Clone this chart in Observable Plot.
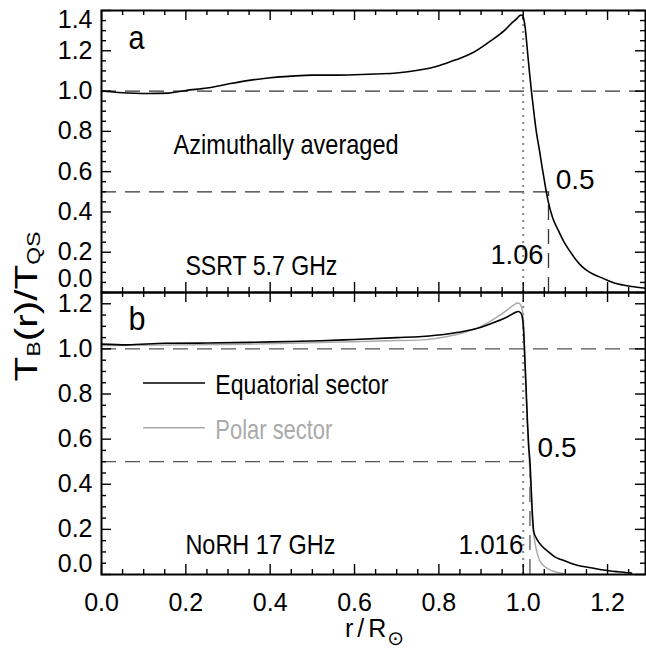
<!DOCTYPE html>
<html>
<head>
<meta charset="utf-8">
<script src="https://cdn.jsdelivr.net/npm/d3@7"></script>
<script src="https://cdn.jsdelivr.net/npm/@observablehq/plot@0.6"></script>
<style>
  body { margin: 0; background: #fff; }
  #wrap { position: relative; width: 646px; height: 649px; background: #fff; }
  #wrap > svg { display: block; overflow: visible; }
  #overlay { position: absolute; left: 0; top: 0; pointer-events: none; }
</style>
</head>
<body>
<div id="wrap"></div>
<script>
// ---------- data ----------
// Panel a: SSRT 5.7 GHz, azimuthally averaged
const rA = [0, 0.04, 0.08, 0.11, 0.16, 0.2, 0.25, 0.3, 0.35, 0.4, 0.45, 0.5, 0.55, 0.6, 0.65, 0.7, 0.75, 0.8, 0.84, 0.88, 0.92, 0.955, 0.975, 0.985, 0.992, 0.997, 1.001, 1.005, 1.01, 1.015, 1.02, 1.025, 1.031, 1.039, 1.045, 1.051, 1.059, 1.07, 1.083, 1.097, 1.111, 1.125, 1.139, 1.158, 1.178, 1.198, 1.218, 1.237, 1.257, 1.275, 1.29];
const tA = [1.0, 0.993, 0.989, 0.988, 0.99, 1.003, 1.015, 1.035, 1.053, 1.066, 1.074, 1.079, 1.079, 1.081, 1.085, 1.09, 1.103, 1.126, 1.155, 1.19, 1.245, 1.30, 1.342, 1.36, 1.375, 1.378, 1.36, 1.31, 1.2, 1.09, 0.99, 0.9, 0.8, 0.70, 0.62, 0.545, 0.455, 0.37, 0.31, 0.25, 0.204, 0.163, 0.13, 0.1, 0.08, 0.062, 0.046, 0.037, 0.03, 0.025, 0.021];

// Panel b: NoRH 17 GHz, equatorial sector
const rEq = [0, 0.06, 0.15, 0.25, 0.35, 0.45, 0.52, 0.6, 0.7, 0.76, 0.82, 0.86, 0.9, 0.935, 0.964, 0.98, 0.988, 0.994, 0.998, 1.001, 1.004, 1.007, 1.01, 1.013, 1.016, 1.019, 1.022, 1.025, 1.032, 1.045, 1.06, 1.075, 1.09, 1.11, 1.13, 1.16, 1.19, 1.225, 1.257];
const tEq = [1.021, 1.018, 1.025, 1.026, 1.029, 1.033, 1.036, 1.042, 1.05, 1.055, 1.066, 1.078, 1.096, 1.12, 1.144, 1.16, 1.166, 1.16, 1.14, 1.08, 0.95, 0.82, 0.68, 0.57, 0.5, 0.38, 0.26, 0.19, 0.158, 0.125, 0.1, 0.078, 0.066, 0.052, 0.04, 0.03, 0.02, 0.012, 0.006];

// Panel b: polar sector
const rPo = [0, 0.15, 0.3, 0.45, 0.52, 0.6, 0.7, 0.76, 0.82, 0.86, 0.9, 0.935, 0.964, 0.978, 0.986, 0.992, 0.997, 1.001, 1.004, 1.007, 1.01, 1.013, 1.016, 1.02, 1.024, 1.03, 1.039, 1.048, 1.059, 1.075, 1.091, 1.1];
const tPo = [1.015, 1.017, 1.02, 1.025, 1.028, 1.032, 1.037, 1.04, 1.055, 1.073, 1.1, 1.137, 1.175, 1.195, 1.203, 1.2, 1.18, 1.1, 0.95, 0.8, 0.66, 0.55, 0.45, 0.3, 0.196, 0.12, 0.062, 0.04, 0.025, 0.012, 0.006, 0.002];

// reference levels and marked radii
const levels = [1.0, 0.5];
const halfA = 1.06;     // r where SSRT profile = 0.5
const halfB = 1.016;    // r where NoRH profile = 0.5
const limb = 1.0;
const peakA = 1.375, peakB = 1.2;

// tick values
const xMajor = [0, 0.2, 0.4, 0.6, 0.8, 1.0, 1.2];
const xMinor = [0.05, 0.1, 0.15, 0.25, 0.3, 0.35, 0.45, 0.5, 0.55, 0.65, 0.7, 0.75, 0.85, 0.9, 0.95, 1.05, 1.1, 1.15, 1.25];
const yMajorA = [0, 0.2, 0.4, 0.6, 0.8, 1.0, 1.2, 1.4];
const yMinorA = [0.05, 0.1, 0.15, 0.25, 0.3, 0.35, 0.45, 0.5, 0.55, 0.65, 0.7, 0.75, 0.85, 0.9, 0.95, 1.05, 1.1, 1.15, 1.25, 1.3, 1.35];
const yMajorB = [0, 0.2, 0.4, 0.6, 0.8, 1.0, 1.2];
const yMinorB = [0.05, 0.1, 0.15, 0.25, 0.3, 0.35, 0.45, 0.5, 0.55, 0.65, 0.7, 0.75, 0.85, 0.9, 0.95, 1.05, 1.1, 1.15];
const yLabelsA = [0.2, 0.4, 0.6, 0.8, 1.0, 1.2];
const yLabelsB = [0.2, 0.4, 0.6, 0.8, 1.0, 1.2];
const xLabels = [0, 0.2, 0.4, 0.6, 0.8, 1.0, 1.2];

const seriesA = rA.map((r, i) => ({r, t: tA[i]}));
const seriesEq = rEq.map((r, i) => ({r, t: tEq[i]}));
const seriesPo = rPo.map((r, i) => ({r, t: tPo[i]}));

// ---------- layout ----------
const W = 646, ML = 101, MR = 1;
const SANS = "'Liberation Sans', Arial, Helvetica, sans-serif";
const XDOM = [0, 1.29];

// rendered widths of the annotation texts (the original uses a condensed Helvetica)
const textWidths = {
  "a": 16, "b": 17,
  "Azimuthally averaged": 225, "SSRT 5.7 GHz": 152, "1.06": 53, "0.5": 39,
  "Equatorial sector": 173, "Polar sector": 117, "NoRH 17 GHz": 150, "1.016": 65
};

function frameTicks(innerW, innerH, yMaj, yMin) {
  const s = {stroke: "black", strokeWidth: 1.4};
  return [
    Plot.tickX(xMajor, {...s, insetTop: innerH - 10}),
    Plot.tickX(xMajor, {...s, insetBottom: innerH - 10}),
    Plot.tickX(xMinor, {...s, insetTop: innerH - 5}),
    Plot.tickX(xMinor, {...s, insetBottom: innerH - 5}),
    Plot.tickY(yMaj, {...s, insetRight: innerW - 10}),
    Plot.tickY(yMaj, {...s, insetLeft: innerW - 10}),
    Plot.tickY(yMin, {...s, insetRight: innerW - 5}),
    Plot.tickY(yMin, {...s, insetLeft: innerW - 5}),
    Plot.frame({stroke: "black", strokeWidth: 2})
  ];
}

const dashA = {stroke: "#333", strokeWidth: 1.3, strokeDasharray: "15,9"};
const dashB = {stroke: "#555", strokeWidth: 1.3, strokeDasharray: "15,9"};
const dotted = {stroke: "#888", strokeWidth: 2, strokeDasharray: "2,5"};
const yLab = {tickSize: 0, tickPadding: 9, fontSize: 25, tickFormat: ".1f", label: null, fontFamily: SANS};
const note = (fs, fill = "black") => ({textAnchor: "start", lineAnchor: "bottom", fontSize: fs, fontFamily: SANS, fill});

// ---------- panel a ----------
const HA = 292, MTA = 10, MBA = 0;
const plotA = Plot.plot({
  width: W, height: HA, marginLeft: ML, marginRight: MR, marginTop: MTA, marginBottom: MBA,
  x: {domain: XDOM, axis: null},
  y: {domain: [0, 1.4]},
  style: {background: "transparent", fontFamily: SANS, overflow: "visible"},
  marks: [
    Plot.ruleY([levels[0]], dashA),
    Plot.ruleY([levels[1]], {...dashA, x1: 0, x2: halfA}),
    Plot.ruleX([halfA], {...dashA, y1: 0, y2: levels[1]}),
    Plot.ruleX([limb], {...dotted, y1: 0, y2: peakA}),
    Plot.line(seriesA, {x: "r", y: "t", stroke: "black", strokeWidth: 1.6, curve: "monotone-x"}),
    Plot.text(["a"], {...note(34), x: 0.064, y: 1.211}),
    Plot.text(["Azimuthally averaged"], {...note(28), x: 0.171, y: 0.686}),
    Plot.text(["SSRT 5.7 GHz"], {...note(28), x: 0.199, y: 0.088}),
    Plot.text(["0.5"], {...note(27.5), x: 1.077, y: 0.513}),
    Plot.text(["1.06"], {...note(27.5), textAnchor: "end", x: 1.048, y: 0.14}),
    ...frameTicks(W - ML - MR, HA - MTA - MBA, yMajorA, yMinorA),
    Plot.axisY(yLabelsA, yLab),
    Plot.axisY([1.4], {...yLab, dy: 9}),
    Plot.axisY([0], {...yLab, dy: -14})
  ]
});

// ---------- panel b ----------
const HB = 357, MTB = 0, MBB = 75;
const plotB = Plot.plot({
  width: W, height: HB, marginLeft: ML, marginRight: MR, marginTop: MTB, marginBottom: MBB,
  x: {domain: XDOM},
  y: {domain: [0, 1.25]},
  style: {background: "transparent", fontFamily: SANS, overflow: "visible"},
  marks: [
    Plot.ruleY([levels[0]], dashB),
    Plot.ruleY([levels[1]], {...dashB, x1: 0, x2: halfB}),
    Plot.ruleX([halfB], {...dashB, y1: 0, y2: levels[1]}),
    Plot.ruleX([limb], {...dotted, y1: 0, y2: peakB}),
    Plot.line(seriesPo, {x: "r", y: "t", stroke: "#aaa", strokeWidth: 1.5, curve: "monotone-x"}),
    Plot.line(seriesEq, {x: "r", y: "t", stroke: "black", strokeWidth: 1.6, curve: "monotone-x"}),
    Plot.text(["b"], {...note(34), x: 0.064, y: 1.084}),
    // legend
    Plot.ruleY([0.849], {x1: 0.0996, x2: 0.2466, stroke: "black", strokeWidth: 1.6}),
    Plot.text(["Equatorial sector"], {...note(28), x: 0.27, y: 0.80}),
    Plot.ruleY([0.651], {x1: 0.0996, x2: 0.2466, stroke: "#aaa", strokeWidth: 1.5}),
    Plot.text(["Polar sector"], {...note(28, "#aaa"), x: 0.27, y: 0.60}),
    Plot.text(["NoRH 17 GHz"], {...note(28), x: 0.199, y: 0.093}),
    Plot.text(["0.5"], {...note(27.5), x: 1.034, y: 0.52}),
    Plot.text(["1.016"], {...note(27.5), textAnchor: "end", x: 1.0007, y: 0.093}),
    ...frameTicks(W - ML - MR, HB - MTB - MBB, yMajorB, yMinorB),
    Plot.axisY(yLabelsB, yLab),
    Plot.axisY([0], {...yLab, dy: -11}),
    Plot.axisX(xLabels, {tickSize: 0, tickPadding: 19, fontSize: 25, tickFormat: ".1f", label: null, fontFamily: SANS})
  ]
});

// condense the annotation texts to the original's widths
for (const svg of [plotA, plotB]) {
  d3.select(svg).selectAll("g[aria-label='text'] text").each(function () {
    const w = textWidths[this.textContent];
    if (w != null) {
      this.setAttribute("textLength", w);
      this.setAttribute("lengthAdjust", "spacingAndGlyphs");
    }
  });
}

const wrap = document.getElementById("wrap");
wrap.appendChild(plotA);
wrap.appendChild(plotB);

// ---------- axis titles (with subscripts) ----------
const ov = d3.select(wrap).append("svg")
  .attr("id", "overlay").attr("width", W).attr("height", 649);

const yt = ov.append("text")
  .attr("transform", "translate(37,306.5) rotate(-90) scale(1.27,1)")
  .attr("text-anchor", "middle")
  .attr("font-family", SANS)
  .attr("font-size", 32)
  .attr("fill", "black");
yt.append("tspan").text("T");
yt.append("tspan").attr("font-size", 18).attr("dy", 3).text("B");
yt.append("tspan").attr("dy", -3).text("(r)/T");
yt.append("tspan").attr("font-size", 18).attr("dy", 3).text("QS");

const xt = ov.append("text")
  .attr("x", 345).attr("y", 637)
  .attr("font-family", SANS)
  .attr("font-size", 25)
  .attr("fill", "black");
xt.append("tspan").attr("letter-spacing", 4).text("r/");
xt.append("tspan").text("R");
xt.append("tspan").attr("font-size", 20).attr("dx", 1).attr("dy", 8).attr("font-family", "'DejaVu Sans', sans-serif").text("\u2299");
</script>
</body>
</html>
